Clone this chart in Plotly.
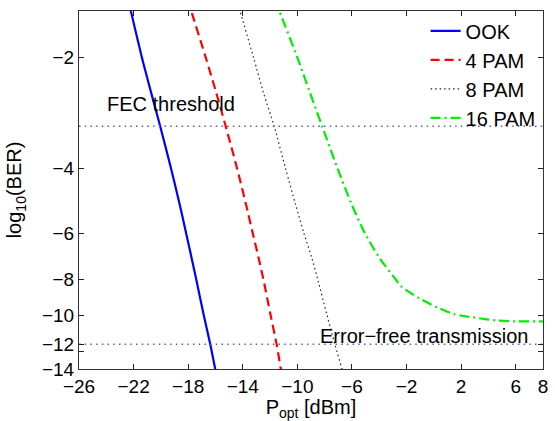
import numpy as np
import plotly.graph_objects as go

# ---- data (x: P_opt in dBm, y: log10(BER)) ----
ook_x = [-22.39, -22.20, -21.40, -20.71, -20.05, -19.26, -18.63, -18.15, -17.75, -17.41,
         -16.86, -16.38, -16.02, -15.85]
ook_logber = [-1.4, -1.5, -2.0, -2.5, -3.08, -4.0, -5.0, -6.0, -7.0, -8.0,
              -10.0, -12.0, -14.0, -15.0]

pam4_x = [-18.04, -17.78, -16.72, -15.94, -15.25, -14.42, -13.77, -13.27, -12.84, -12.49,
          -11.96, -11.52, -11.21, -11.06]
pam4_logber = [-1.4, -1.5, -2.0, -2.5, -3.08, -4.0, -5.0, -6.0, -7.0, -8.0,
               -10.0, -12.0, -14.0, -15.0]

pam8_x = [-14.43, -14.20, -13.22, -12.48, -11.70, -10.87, -10.14, -9.52, -8.94, -8.51,
          -7.83, -7.25, -6.73, -6.49]
pam8_logber = [-1.4, -1.5, -2.0, -2.5, -3.08, -4.0, -5.0, -6.0, -7.0, -8.0,
               -10.0, -12.0, -14.0, -15.0]

pam16_x = [-11.64, -11.32, -10.01, -9.07, -8.18, -7.06, -6.03, -5.05, -3.98, -2.80,
           -2.37, -1.10, 0.35, 1.48, 2.91, 4.58, 6.03, 7.65, 8.0]
pam16_logber = [-1.4, -1.5, -2.0, -2.5, -3.08, -4.0, -5.0, -6.0, -7.0, -8.0,
                -8.37, -8.99, -9.57, -9.94, -10.15, -10.34, -10.40, -10.40, -10.41]

series_names = ["OOK", "4 PAM", "8 PAM", "16 PAM"]

fec_threshold = -3.08
error_free = -12.0
threshold_x = [-26, 8]

x_tick_vals = [-26, -22, -18, -14, -10, -6, -2, 2, 6, 8]
x_tick_text = ["\u221226", "\u221222", "\u221218", "\u221214", "\u221210", "\u22126", "\u22122", "2", "6", "8"]
y_tick_vals = [-2, -4, -6, -8, -10, -12, -12.57, -14]
y_tick_text = ["\u22122", "\u22124", "\u22126", "\u22128", "\u221210", "\u221212", "", "\u221214"]

x_range = [-26, 8]
y_range = [-1.5, -14]

FONT = "Liberation Sans, Arial, Helvetica, sans-serif"

def tr(v):
    # log10(BER) -> positive quantity drawn on a (reversed) log axis
    return [-a for a in v]

fig = go.Figure()

styles = [
    dict(color="#0000ff", width=2.2, dash="solid"),
    dict(color="#ff0000", width=2.2, dash="9px,5px"),
    dict(color="#222222", width=1.2, dash="1.5px,3px"),
    dict(color="#00ee00", width=2.2, dash="10px,4px,2px,4px"),
]
xs = [ook_x, pam4_x, pam8_x, pam16_x]
ys = [ook_logber, pam4_logber, pam8_logber, pam16_logber]

for name, x, y, st in zip(series_names, xs, ys, styles):
    fig.add_trace(go.Scatter(x=x, y=tr(y), mode="lines", name=name,
                             line=dict(**st, shape="spline", smoothing=0.8)))

for thr in [fec_threshold, error_free]:
    fig.add_trace(go.Scatter(x=threshold_x, y=tr([thr, thr]), mode="lines",
                             showlegend=False, hoverinfo="skip",
                             line=dict(color="#5566aa", width=1.5, dash="1.5px,4.2px")))

fig.add_annotation(x=-19.24, y=np.log10(2.68), text="FEC threshold", showarrow=False,
                   font=dict(size=20, color="#000000", family=FONT), xanchor="center", yanchor="middle")
fig.add_annotation(x=-0.70, y=np.log10(11.37), text="Error\u2212free transmission", showarrow=False,
                   font=dict(size=20, color="#000000", family=FONT), xanchor="center", yanchor="middle")

fig.update_layout(
    width=555, height=421,
    margin=dict(l=79, r=7, t=11, b=52),
    paper_bgcolor="white", plot_bgcolor="white",
    font=dict(family=FONT, size=19, color="#000000"),
    showlegend=True,
    legend=dict(x=0.747, y=0.999, xanchor="left", yanchor="top",
                bgcolor="rgba(255,255,255,0)", borderwidth=0,
                font=dict(size=20, family=FONT), tracegroupgap=0),
)

fig.update_xaxes(
    range=x_range, tickvals=x_tick_vals, ticktext=x_tick_text,
    ticks="inside", ticklen=5, tickwidth=1, tickcolor="#222222",
    showline=True, linecolor="#333333", linewidth=1, mirror="ticks",
    showgrid=False, zeroline=False,
    title=dict(text="P<sub>opt</sub> [dBm]", font=dict(size=20, family=FONT), standoff=2),
    tickfont=dict(size=19, family=FONT),
)
fig.update_yaxes(
    type="log", range=[np.log10(-y_range[1]), np.log10(-y_range[0])],
    tickvals=tr(y_tick_vals), ticktext=y_tick_text,
    ticks="inside", ticklen=5, tickwidth=1, tickcolor="#222222",
    showline=True, linecolor="#333333", linewidth=1, mirror="ticks",
    showgrid=False, zeroline=False,
    title=dict(text="log<sub>10</sub>(BER)", font=dict(size=20, family=FONT), standoff=14),
    tickfont=dict(size=19, family=FONT),
)

fig.write_html("out.html")
